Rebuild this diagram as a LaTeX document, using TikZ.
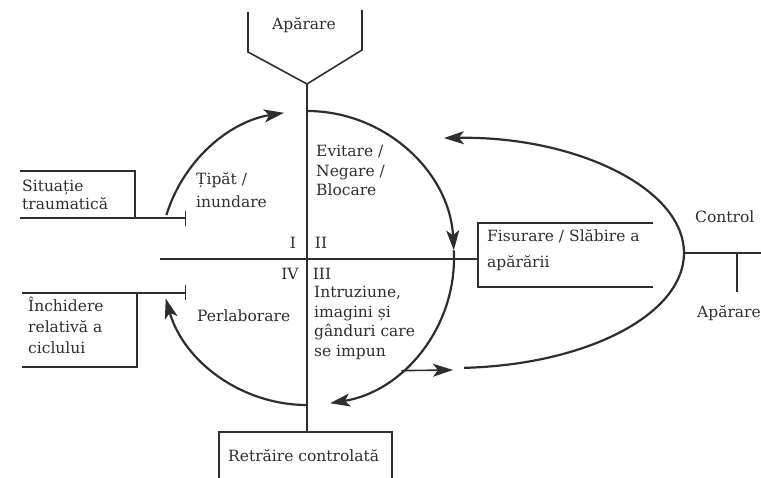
\documentclass[tikz,border=0pt]{standalone}
\usepackage{fontspec}
\setmainfont{DejaVu Serif}
\usetikzlibrary{arrows.meta,calc}
\definecolor{ink}{HTML}{2E2E2E}
\begin{document}
\begin{tikzpicture}[x=1pt,y=-1pt,
  ln/.style={line width=1.6pt,draw=ink},
  cv/.style={line width=2.2pt,draw=ink},
  tip/.style={-{Stealth[length=20pt,width=13pt,inset=5pt]}},
  lbl/.style={anchor=base west,inner sep=0pt,font=\fontsize{15.5}{18}\selectfont,text=ink},
  lblc/.style={lbl,anchor=base}]
\useasboundingbox (0,0) rectangle (761,478);
% coordinates
\coordinate (c) at (307,258);
\coordinate (e) at (452,253);
\coordinate (fTL) at (248,12);
\coordinate (fL) at (248,52);
\coordinate (fTip) at (307,84);
\coordinate (fR) at (362,50);
\coordinate (fTR) at (362,10);
\coordinate (axB) at (307,432);
\coordinate (hL) at (160,259);
\coordinate (hR) at (478,259);
% funnel (Aparare top)
\draw[ln,line join=miter] (fTL) -- (fL) -- (fTip) -- (fR) -- (fTR);
% axes
\draw[ln] (fTip) -- (axB);
\draw[ln] (hL) -- (hR);
% Fisurare box
\coordinate (fbTR) at (653,223);
\coordinate (fbTL) at (478,223);
\coordinate (fbBL) at (478,287);
\coordinate (fbBR) at (653,287);
\draw[ln] (fbTR) -- (fbTL) -- (fbBL) -- (fbBR);
% Control line
\coordinate (ctlL) at (684,253);
\coordinate (ctlR) at (761,253);
\coordinate (tk) at (737,253);
\coordinate (tkB) at (737,292);
\draw[ln] (ctlL) -- (ctlR);
\draw[ln] (tk) -- (tkB);
% Situatie box
\coordinate (s1) at (20,171);
\coordinate (s2) at (135,171);
\coordinate (s3) at (135,218);
\coordinate (s4) at (20,218);
\coordinate (s5) at (185,218);
\draw[ln] (s1) -- (s2) -- (s3);
\draw[ln] (s4) -- (s5);
\draw[line width=1pt,draw=ink] ($(s5)+(0,-7)$) -- ($(s5)+(0,8)$);
% Inchidere box
\coordinate (i1) at (22,293);
\coordinate (i2) at (185,293);
\coordinate (i3) at (137,293);
\coordinate (i4) at (137,367);
\coordinate (i5) at (22,367);
\draw[ln] (i1) -- (i2);
\draw[line width=1pt,draw=ink] ($(i2)+(0,-8)$) -- ($(i2)+(0,7)$);
\draw[ln] (i3) -- (i4) -- (i5);
% bottom box
\coordinate (b1) at (219,478);
\coordinate (b2) at (219,432);
\coordinate (b3) at (392,432);
\coordinate (b4) at (392,478);
\draw[ln] (b1) -- (b2) -- (b3) -- (b4);
% circle arcs
\draw[cv,tip] ($(c)+(197:147)$) arc[start angle=197,end angle=261,radius=147];
\draw[cv,tip] ($(c)+(-90:147)$) arc[start angle=-90,end angle=-3,radius=147];
\draw[cv,tip] ($(c)+(-3:147)$) arc[start angle=-3,end angle=81,radius=147];
\draw[cv,tip] ($(c)+(90:147)$) arc[start angle=90,end angle=164,radius=147];
% side arrow
\coordinate (h1) at ($(c)+(50:147)$);
\coordinate (h2) at (453,370);
\draw[ln,tip] (h1) -- (h2);
% big control loop
\draw[cv,tip] ($(e)+(87:232 and 115)$) arc[start angle=87,end angle=-92,x radius=232,y radius=115];
% texts
\node[lblc] (tA) at (304,30) {Apărare};
\node[lbl] (t1a) at (196,185) {Țipăt /};
\node[lbl] (t1b) at (196,208) {inundare};
\node[lbl] (t2a) at (316,157) {Evitare /};
\node[lbl] (t2b) at (316,177) {Negare /};
\node[lbl] (t2c) at (316,196) {Blocare};
\node[lblc] (qI) at (293,249) {I};
\node[lblc] (qII) at (321,249) {II};
\node[lblc] (qIV) at (290,280) {IV};
\node[lblc] (qIII) at (322,280) {III};
\node[lbl] (t3a) at (314,298) {Intruziune,};
\node[lbl] (t3b) at (314,318) {imagini și};
\node[lbl] (t3c) at (314,337) {gânduri care};
\node[lbl] (t3d) at (314,357) {se impun};
\node[lbl] (t4) at (197,322) {Perlaborare};
\node[lbl] (ts1) at (22,192) {Situație};
\node[lbl] (ts2) at (22,210) {traumatică};
\node[lbl] (ti1) at (28,312) {Închidere};
\node[lbl] (ti2) at (28,333) {relativă a};
\node[lbl] (ti3) at (28,354) {ciclului};
\node[lbl] (tf1) at (487,242) {Fisurare / Slăbire a};
\node[lbl] (tf2) at (487,268) {apărării};
\node[lbl] (tc) at (695,223) {Control};
\node[lbl] (tap) at (697,318) {Apărare};
\node[lbl] (tr) at (228,461) {Retrăire controlată};
\end{tikzpicture}
\end{document}
